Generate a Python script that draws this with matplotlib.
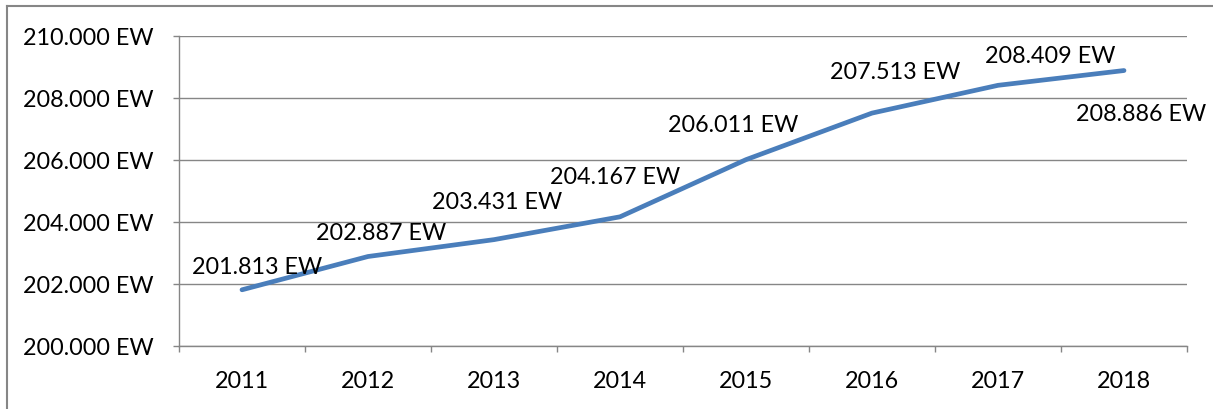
import matplotlib
matplotlib.use("Agg")
import matplotlib.pyplot as plt
from matplotlib.ticker import FixedLocator, FuncFormatter
from matplotlib.lines import Line2D

years = ["2011", "2012", "2013", "2014", "2015", "2016", "2017", "2018"]
residents = [201813, 202887, 203431, 204167, 206011, 207513, 208409, 208886]
y_ticks = [200000, 202000, 204000, 206000, 208000, 210000]

# label offsets in pixels (dx, dy) relative to each point
label_offsets = [(15, 23), (13, 24), (3, 38), (-5, 40), (-13, 35), (23, 42), (52, 30), (17, -43)]

def fmt(v):
    return f"{v:,.0f}".replace(",", ".") + " EW"

plt.rcParams['font.family'] = ['Lato', 'DejaVu Sans']
FS = 16.8

fig = plt.figure(figsize=(12.13, 4.10), dpi=100)
ax = fig.add_axes([179/1213, 63/410, (1187-179)/1213, (347-37)/410])

x = list(range(len(years)))
ax.plot(x, residents, color="#4A7EBB", lw=3.4, solid_capstyle="round", solid_joinstyle="round", zorder=3)

ax.set_xlim(-0.5, len(years) - 0.5)
ax.set_ylim(y_ticks[0], y_ticks[-1])
ax.yaxis.set_major_locator(FixedLocator(y_ticks))
ax.yaxis.set_major_formatter(FuncFormatter(lambda v, p: fmt(v)))
ax.set_xticks(x)
ax.set_xticklabels(years)
ax.set_xticks([i - 0.5 for i in range(len(years) + 1)], minor=True)
ax.tick_params(axis="x", which="major", length=0, pad=17, labelsize=FS)
ax.tick_params(axis="x", which="minor", length=4.5, color="#868686", width=1)
ax.tick_params(axis="y", which="major", length=4.5, color="#868686", width=1, pad=14, labelsize=FS)

ax.grid(axis="y", color="#868686", lw=1)
for s in ["top", "right"]:
    ax.spines[s].set_visible(False)
for s in ["left", "bottom"]:
    ax.spines[s].set_color("#868686")
    ax.spines[s].set_linewidth(1)

for xi, v, (dx, dy) in zip(x, residents, label_offsets):
    ax.annotate(fmt(v), (xi, v), xytext=(dx * 0.72, dy * 0.72), textcoords="offset points",
                ha="center", va="center", fontsize=FS, color="black", zorder=4)

# figure border (left and top)
fig.add_artist(Line2D([7/1213, 7/1213], [0, 1 - 7/410], transform=fig.transFigure, color="#868686", lw=1.5))
fig.add_artist(Line2D([7/1213, 1], [1 - 7/410, 1 - 7/410], transform=fig.transFigure, color="#868686", lw=1.5))

fig.savefig("out.png", dpi=100)
